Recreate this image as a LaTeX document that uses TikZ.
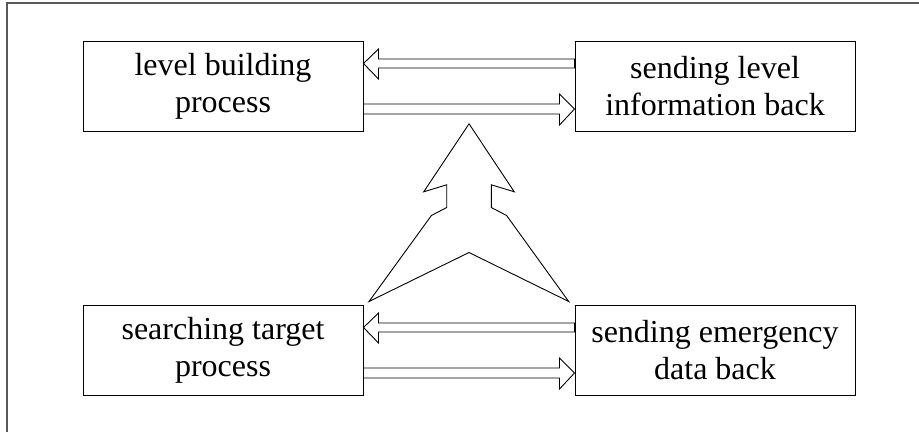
\documentclass[tikz,border=0pt]{standalone}
\usepackage{fontspec}
\setmainfont{Liberation Serif}
\usetikzlibrary{calc}
\begin{document}
\begin{tikzpicture}[x=1pt,y=-1pt,
  box/.style={draw, line width=1pt, minimum width=280pt, minimum height=90pt, inner sep=0pt, align=center, font=\fontsize{32}{37.3}\selectfont},
  fat/.style={draw, line width=0.9pt, line join=miter},
  frame/.style={draw=black!65, line width=1.5pt}]
\useasboundingbox (0,0) rectangle (919,432);
\draw[frame] (7,432) -- (7,3) -- (919,3);
\node[box] (lb) at (223,86) {level building\\process};
\node[box] (lr) at (715,86) {sending level\\information back};
\node[box] (sb) at (223,350) {searching target\\process};
\node[box] (sr) at (715,350) {sending emergency\\data back};
% top arrows
\draw[fat] ($(lr.west)+(0,-27)$) -- ($(lb.east)+(15,-27)$) -- ($(lb.east)+(15,-37)$) -- ($(lb.east)+(0,-22.5)$) -- ($(lb.east)+(15,-7)$) -- ($(lb.east)+(15,-18)$) -- ($(lr.west)+(0,-18)$) -- cycle;
\draw[fat] ($(lb.east)+(0,18)$) -- ($(lr.west)+(-15,18)$) -- ($(lr.west)+(-15,8)$) -- ($(lr.west)+(0,23)$) -- ($(lr.west)+(-15,39)$) -- ($(lr.west)+(-15,28)$) -- ($(lb.east)+(0,28)$) -- cycle;
% bottom arrows
\draw[fat] ($(sr.west)+(0,-27)$) -- ($(sb.east)+(15,-27)$) -- ($(sb.east)+(15,-37)$) -- ($(sb.east)+(0,-22.5)$) -- ($(sb.east)+(15,-7)$) -- ($(sb.east)+(15,-18)$) -- ($(sr.west)+(0,-18)$) -- cycle;
\draw[fat] ($(sb.east)+(0,18)$) -- ($(sr.west)+(-15,18)$) -- ($(sr.west)+(-15,8)$) -- ($(sr.west)+(0,23)$) -- ($(sr.west)+(-15,39)$) -- ($(sr.west)+(-15,28)$) -- ($(sb.east)+(0,28)$) -- cycle;
% big upward arrow
\coordinate (apex) at ($(lb.south east)!0.5!(lr.south west)+(0,-7.7)$);
\draw[fat] (apex) -- ($(apex)+(45.3,68)$) -- ($(apex)+(22.3,61)$) -- ($(apex)+(22.3,83.7)$) -- ($(apex)+(37.6,91.7)$) -- ($(apex)+(99.7,177.7)$) -- ($(apex)+(0,128.7)$) -- ($(apex)+(-100,177.7)$) -- ($(apex)+(-37.6,91.7)$) -- ($(apex)+(-22.3,83.7)$) -- ($(apex)+(-22.3,61)$) -- ($(apex)+(-45.3,68)$) -- cycle;
\end{tikzpicture}
\end{document}
